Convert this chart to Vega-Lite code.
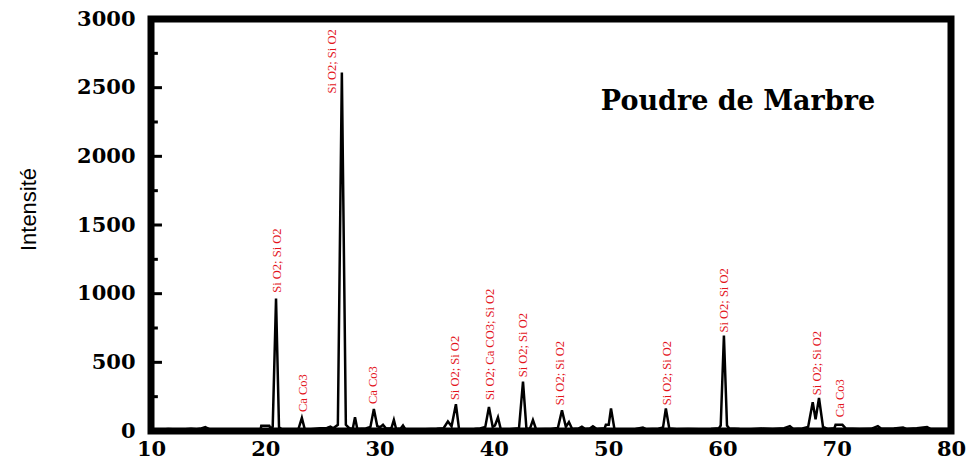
{
  "$schema": "https://vega.github.io/schema/vega-lite/v6.json",
  "width": 800,
  "height": 412,
  "autosize": {"type": "none"},
  "padding": {"left": 151, "top": 19, "right": 15, "bottom": 30},
  "background": "white",
  "config": {
    "view": {"stroke": "black", "strokeWidth": 7},
    "axis": {"grid": false, "domain": false}
  },
  "datasets": {
    "spectrum": [
      {"theta": 10.0, "intensity": 12}, {"theta": 10.8, "intensity": 10}, {"theta": 11.5, "intensity": 14}, {"theta": 12.3, "intensity": 11},
      {"theta": 13.0, "intensity": 13}, {"theta": 13.5, "intensity": 16}, {"theta": 14.0, "intensity": 12}, {"theta": 14.4, "intensity": 18},
      {"theta": 14.75, "intensity": 28}, {"theta": 15.1, "intensity": 14}, {"theta": 16.0, "intensity": 12}, {"theta": 17.0, "intensity": 10},
      {"theta": 18.0, "intensity": 12}, {"theta": 19.0, "intensity": 11}, {"theta": 19.6, "intensity": 14}, {"theta": 19.65, "intensity": 38},
      {"theta": 20.35, "intensity": 38}, {"theta": 20.45, "intensity": 20}, {"theta": 20.65, "intensity": 30}, {"theta": 20.94, "intensity": 965},
      {"theta": 21.2, "intensity": 28}, {"theta": 21.4, "intensity": 14}, {"theta": 22.0, "intensity": 12}, {"theta": 22.9, "intensity": 14},
      {"theta": 23.2, "intensity": 95}, {"theta": 23.45, "intensity": 14}, {"theta": 24.0, "intensity": 12}, {"theta": 24.8, "intensity": 20},
      {"theta": 25.4, "intensity": 22}, {"theta": 25.7, "intensity": 32}, {"theta": 25.95, "intensity": 20}, {"theta": 26.35, "intensity": 45},
      {"theta": 26.7, "intensity": 2610}, {"theta": 27.05, "intensity": 45}, {"theta": 27.35, "intensity": 20}, {"theta": 27.65, "intensity": 15},
      {"theta": 27.85, "intensity": 100}, {"theta": 28.05, "intensity": 15}, {"theta": 28.8, "intensity": 18}, {"theta": 29.2, "intensity": 30},
      {"theta": 29.5, "intensity": 160}, {"theta": 29.8, "intensity": 35}, {"theta": 30.05, "intensity": 28}, {"theta": 30.3, "intensity": 45},
      {"theta": 30.55, "intensity": 20}, {"theta": 30.9, "intensity": 18}, {"theta": 31.05, "intensity": 25}, {"theta": 31.25, "intensity": 80},
      {"theta": 31.45, "intensity": 15}, {"theta": 31.85, "intensity": 18}, {"theta": 32.05, "intensity": 40}, {"theta": 32.25, "intensity": 14},
      {"theta": 33.0, "intensity": 10}, {"theta": 34.0, "intensity": 12}, {"theta": 35.0, "intensity": 16}, {"theta": 35.6, "intensity": 20},
      {"theta": 35.98, "intensity": 70}, {"theta": 36.3, "intensity": 35}, {"theta": 36.68, "intensity": 195}, {"theta": 36.95, "intensity": 15},
      {"theta": 37.5, "intensity": 12}, {"theta": 38.3, "intensity": 14}, {"theta": 38.8, "intensity": 18}, {"theta": 39.25, "intensity": 30},
      {"theta": 39.57, "intensity": 175}, {"theta": 39.9, "intensity": 30}, {"theta": 40.1, "intensity": 40}, {"theta": 40.36, "intensity": 100},
      {"theta": 40.6, "intensity": 15}, {"theta": 41.4, "intensity": 12}, {"theta": 42.2, "intensity": 20}, {"theta": 42.55, "intensity": 360},
      {"theta": 42.85, "intensity": 18}, {"theta": 43.15, "intensity": 15}, {"theta": 43.42, "intensity": 80}, {"theta": 43.7, "intensity": 12},
      {"theta": 44.5, "intensity": 15}, {"theta": 45.0, "intensity": 14}, {"theta": 45.6, "intensity": 22}, {"theta": 45.96, "intensity": 150},
      {"theta": 46.3, "intensity": 30}, {"theta": 46.57, "intensity": 65}, {"theta": 46.85, "intensity": 15}, {"theta": 47.4, "intensity": 18},
      {"theta": 47.7, "intensity": 32}, {"theta": 48.0, "intensity": 15}, {"theta": 48.4, "intensity": 18}, {"theta": 48.67, "intensity": 35},
      {"theta": 49.0, "intensity": 15}, {"theta": 49.7, "intensity": 20}, {"theta": 49.8, "intensity": 45}, {"theta": 50.05, "intensity": 45},
      {"theta": 50.25, "intensity": 165}, {"theta": 50.55, "intensity": 15}, {"theta": 51.5, "intensity": 12}, {"theta": 52.4, "intensity": 14},
      {"theta": 53.04, "intensity": 25}, {"theta": 53.35, "intensity": 12}, {"theta": 54.4, "intensity": 16}, {"theta": 54.8, "intensity": 25},
      {"theta": 55.05, "intensity": 165}, {"theta": 55.35, "intensity": 18}, {"theta": 56.0, "intensity": 12}, {"theta": 57.0, "intensity": 14},
      {"theta": 58.0, "intensity": 12}, {"theta": 59.0, "intensity": 14}, {"theta": 59.7, "intensity": 20}, {"theta": 59.85, "intensity": 40},
      {"theta": 60.13, "intensity": 695}, {"theta": 60.4, "intensity": 40}, {"theta": 60.6, "intensity": 18}, {"theta": 61.5, "intensity": 14},
      {"theta": 62.5, "intensity": 12}, {"theta": 63.4, "intensity": 18}, {"theta": 64.4, "intensity": 14}, {"theta": 65.4, "intensity": 20},
      {"theta": 65.9, "intensity": 35}, {"theta": 66.2, "intensity": 14}, {"theta": 67.0, "intensity": 18}, {"theta": 67.5, "intensity": 30},
      {"theta": 67.9, "intensity": 210}, {"theta": 68.15, "intensity": 85}, {"theta": 68.45, "intensity": 240}, {"theta": 68.8, "intensity": 30},
      {"theta": 69.2, "intensity": 15}, {"theta": 69.8, "intensity": 20}, {"theta": 69.9, "intensity": 45}, {"theta": 70.5, "intensity": 45},
      {"theta": 70.8, "intensity": 18}, {"theta": 72.0, "intensity": 14}, {"theta": 73.0, "intensity": 16}, {"theta": 73.6, "intensity": 35},
      {"theta": 73.9, "intensity": 16}, {"theta": 75.0, "intensity": 18}, {"theta": 75.8, "intensity": 25}, {"theta": 76.1, "intensity": 15},
      {"theta": 77.0, "intensity": 20}, {"theta": 77.9, "intensity": 28}, {"theta": 78.2, "intensity": 15}, {"theta": 79.3, "intensity": 14},
      {"theta": 80.0, "intensity": 14}
    ],
    "peaks": [
      {"theta": 21.02, "intensity": 1007, "label": "Si O2; Si O2"},
      {"theta": 23.3, "intensity": 138, "label": "Ca Co3"},
      {"theta": 25.84, "intensity": 2457, "label": "Si O2; Si O2"},
      {"theta": 29.42, "intensity": 196, "label": "Ca Co3"},
      {"theta": 36.6, "intensity": 225, "label": "Si O2; Si O2"},
      {"theta": 39.66, "intensity": 225, "label": "Si O2; Ca CO3; Si O2"},
      {"theta": 42.55, "intensity": 391, "label": "Si O2; Si O2"},
      {"theta": 45.78, "intensity": 188, "label": "Si O2; Si O2"},
      {"theta": 55.14, "intensity": 188, "label": "Si O2; Si O2"},
      {"theta": 60.13, "intensity": 717, "label": "Si O2; Si O2"},
      {"theta": 68.27, "intensity": 261, "label": "Si O2; Si O2"},
      {"theta": 70.28, "intensity": 101, "label": "Ca Co3"}
    ],
    "annotation": [
      {"theta": 61.36, "intensity": 2338, "label": "Poudre de Marbre"}
    ],
    "yticks": [
      {"intensity": 500, "kind": "major"}, {"intensity": 1000, "kind": "major"}, {"intensity": 1500, "kind": "major"},
      {"intensity": 2000, "kind": "major"}, {"intensity": 2500, "kind": "major"},
      {"intensity": 250, "kind": "minor"}, {"intensity": 750, "kind": "minor"}, {"intensity": 1250, "kind": "minor"},
      {"intensity": 1750, "kind": "minor"}, {"intensity": 2250, "kind": "minor"}, {"intensity": 2750, "kind": "minor"}
    ]
  },
  "layer": [
    {
      "data": {"name": "spectrum"},
      "mark": {"type": "line", "color": "black", "strokeWidth": 2.5},
      "encoding": {
        "x": {
          "field": "theta", "type": "quantitative", "title": null,
          "scale": {"domain": [10, 80], "nice": false, "zero": false},
          "axis": {
            "values": [10, 20, 30, 40, 50, 60, 70, 80],
            "ticks": false,
            "labelPadding": 7,
            "labelFont": "DejaVu Serif", "labelFontWeight": "bold", "labelFontSize": 21,
            "labelColor": "black", "labelFlush": false, "labelOverlap": false
          }
        },
        "y": {
          "field": "intensity", "type": "quantitative", "title": "Intensité",
          "scale": {"domain": [0, 3000], "nice": false},
          "axis": {
            "values": [0, 500, 1000, 1500, 2000, 2500, 3000],
            "format": "d",
            "ticks": false,
            "labelPadding": 16,
            "labelFont": "DejaVu Serif", "labelFontWeight": "bold", "labelFontSize": 21,
            "labelColor": "black", "labelOverlap": false, "labelFlush": false,
            "titleFont": "Liberation Sans",
            "titleFontSize": 22, "titleFontWeight": "normal", "titleColor": "black",
            "titleAngle": 270, "titleAlign": "center", "titleBaseline": "alphabetic",
            "titleX": -116, "titleY": 190
          }
        }
      }
    },
    {
      "data": {"name": "yticks"},
      "transform": [{"filter": "datum.kind === 'major'"}],
      "mark": {"type": "rule", "color": "black", "strokeWidth": 3},
      "encoding": {
        "x": {"datum": 10},
        "x2": {"datum": 10.96},
        "y": {"field": "intensity", "type": "quantitative", "title": "Intensité"}
      }
    },
    {
      "data": {"name": "yticks"},
      "transform": [{"filter": "datum.kind === 'minor'"}],
      "mark": {"type": "rule", "color": "black", "strokeWidth": 3},
      "encoding": {
        "x": {"datum": 10},
        "x2": {"datum": 10.6},
        "y": {"field": "intensity", "type": "quantitative", "title": "Intensité"}
      }
    },
    {
      "data": {"name": "peaks"},
      "mark": {"type": "text", "angle": 270, "align": "left", "baseline": "middle", "color": "#e3141b", "font": "Liberation Serif, Times New Roman, serif", "fontSize": 12.5},
      "encoding": {
        "x": {"field": "theta", "type": "quantitative", "title": null},
        "y": {"field": "intensity", "type": "quantitative", "title": "Intensité"},
        "text": {"field": "label"}
      }
    },
    {
      "data": {"name": "annotation"},
      "mark": {"type": "text", "align": "center", "baseline": "alphabetic", "color": "black", "font": "DejaVu Serif", "fontWeight": "bold", "fontSize": 27},
      "encoding": {
        "x": {"field": "theta", "type": "quantitative", "title": null},
        "y": {"field": "intensity", "type": "quantitative", "title": "Intensité"},
        "text": {"field": "label"}
      }
    }
  ]
}
